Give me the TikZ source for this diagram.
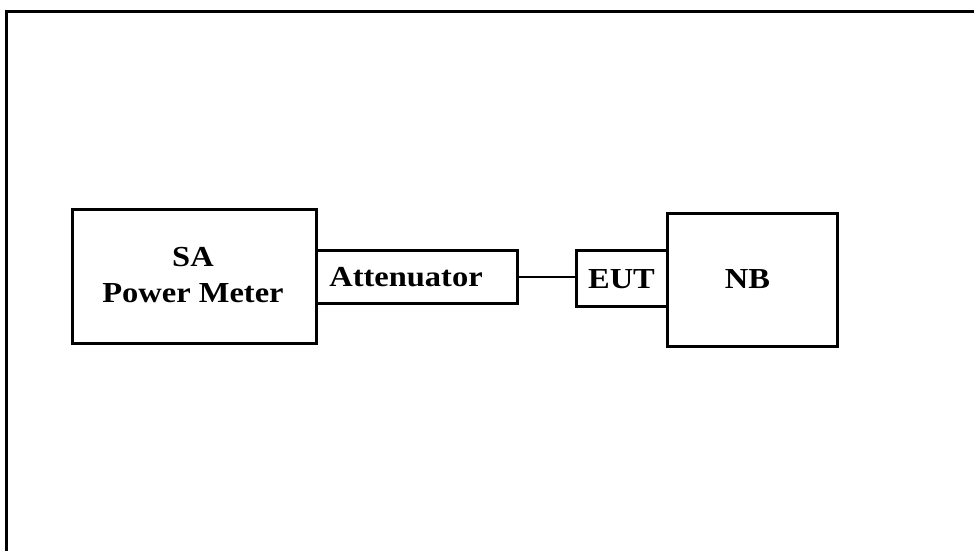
\documentclass[tikz,border=0pt]{standalone}
\usepackage{fontspec}
\setmainfont{Liberation Serif}
\newfontfamily\boxfont[FakeStretch=1.12]{Liberation Serif Bold}
\begin{document}
\begin{tikzpicture}[x=1pt,y=-1pt,
  box/.style={draw=black, line width=3pt, rectangle, inner sep=0pt, fill=none},
  lbl/.style={font=\boxfont\fontsize{29}{36}\selectfont, inner sep=0pt, align=center, anchor=base},
  wire/.style={draw=black, line width=2.6pt}]
\useasboundingbox (0,0) rectangle (974,550);
% outer frame (only top and left edges visible)
\coordinate (fl) at (6.5,560);
\coordinate (fc) at (6.5,11.5);
\coordinate (fr) at (980,11.5);
\draw[line width=3.4pt, line join=miter] (fl) -- (fc) -- (fr);
% boxes
\node[box, minimum width=244pt, minimum height=134pt] (sa) at (194,276) {};
\node[box, minimum width=201pt, minimum height=53pt] (att) at (416.5,276.5) {};
\node[box, minimum width=91pt, minimum height=56pt] (eut) at (621.5,278) {};
\node[box, minimum width=170pt, minimum height=133pt] (nb) at (752,279.5) {};
% labels
\node[lbl] (satxt) at (193,266) {SA};
\node[lbl] (pmtxt) at (193,302) {Power Meter};
\node[lbl] (atttxt) at (406,286) {Attenuator};
\node[lbl] (euttxt) at (621.5,288.5) {EUT};
\node[lbl] (nbtxt) at (747.5,288.5) {NB};
% connector
\draw[wire] (att.east |- 0,277) -- (eut.west |- 0,277);
\end{tikzpicture}
\end{document}
